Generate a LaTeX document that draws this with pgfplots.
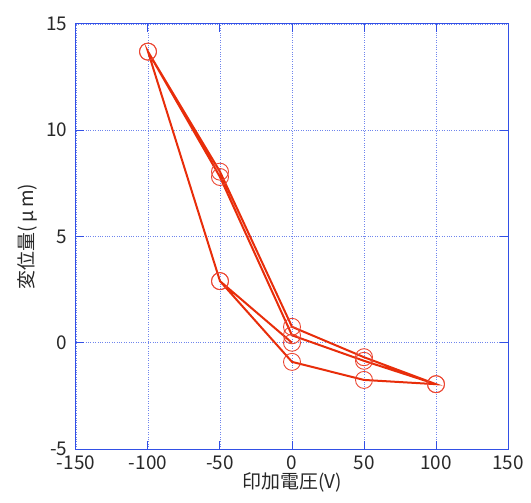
\documentclass[border=0pt]{standalone}
\usepackage{fontspec}
\setmainfont{Noto Sans CJK JP}
\usepackage{pgfplots}
\pgfplotsset{compat=1.18}
\definecolor{axblue}{RGB}{50,80,230}
\definecolor{linered}{RGB}{232,45,10}
\definecolor{markred}{RGB}{235,70,50}
\definecolor{txt}{RGB}{40,40,40}
\begin{document}
\begin{tikzpicture}
\path[use as bounding box] (-76bp,-54bp) rectangle (455bp,449bp);
\begin{axis}[
  scale only axis,
  width=432bp, height=425bp,
  xmin=-150, xmax=150, ymin=-5, ymax=15,
  xtick={-150,-100,...,150},
  ytick={-5,0,...,15},
  grid=major,
  grid style={axblue!70, dotted, line width=0.8bp},
  axis line style={axblue, line width=1bp},
  tick style={axblue, line width=1bp},
  tick align=inside,
  major tick length=8bp,
  /pgf/number format/assume math mode=true,
  ticklabel style={font=\fontsize{19}{22}\selectfont, text=txt},
  xticklabel style={yshift=-3bp},
  yticklabel style={xshift=-5bp},
  label style={font=\fontsize{19}{22}\selectfont, text=txt},
  xlabel={印加電圧(V)},
  ylabel={変位量(\,μ\,m)},
  xlabel style={yshift=4bp},
  ylabel style={yshift=2bp},
  clip=false,
]
\addplot[linered, line width=2bp, mark=o, mark size=8.5bp,
  mark options={draw=markred, fill=none, line width=0.9bp, solid}]
coordinates {
(0,0) (-50,2.9) (-100,13.7) (-50,8.05) (0,0.75) (50,-0.68) (100,-1.95)
(50,-1.75) (0,-0.9) (-50,2.9) (-100,13.7) (-50,7.8) (0,0.35) (50,-0.85) (100,-1.95)
};
\end{axis}
\end{tikzpicture}
\end{document}
